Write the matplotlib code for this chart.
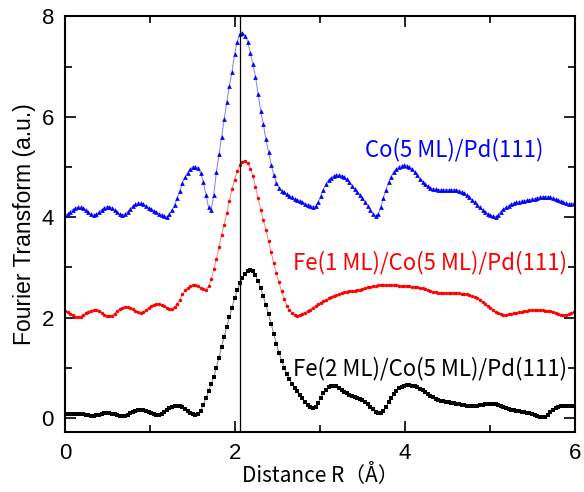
import matplotlib
matplotlib.use("Agg")
import matplotlib.pyplot as plt
import numpy as np

# R grid of the Fourier transform (step 0.0307 A)
r = np.arange(196) * 0.0307

co5 = [4.04, 4.07, 4.11, 4.15, 4.18, 4.20, 4.20, 4.19, 4.15, 4.10,
       4.06, 4.04, 4.06, 4.10, 4.15, 4.19, 4.21, 4.21, 4.19, 4.15,
       4.10, 4.06, 4.04, 4.06, 4.11, 4.17, 4.22, 4.26, 4.28, 4.28,
       4.26, 4.23, 4.19, 4.16, 4.13, 4.10, 4.07, 4.05, 4.02, 4.00,
       4.06, 4.14, 4.24, 4.38, 4.52, 4.68, 4.80, 4.89, 4.96, 5.00,
       5.01, 4.98, 4.88, 4.70, 4.45, 4.20, 4.14, 4.45, 4.90, 5.25,
       5.60, 5.95, 6.30, 6.62, 6.90, 7.25, 7.50, 7.66, 7.68, 7.62,
       7.50, 7.28, 7.05, 6.80, 6.45, 6.12, 5.85, 5.55, 5.30, 5.05,
       4.84, 4.68, 4.58, 4.53, 4.50, 4.46, 4.43, 4.40, 4.37, 4.35,
       4.33, 4.30, 4.27, 4.25, 4.23, 4.21, 4.22, 4.30, 4.42, 4.55,
       4.66, 4.74, 4.79, 4.82, 4.84, 4.84, 4.83, 4.80, 4.76, 4.70,
       4.63, 4.57, 4.51, 4.45, 4.38, 4.30, 4.22, 4.14, 4.07, 4.03,
       4.06, 4.20, 4.38, 4.55, 4.70, 4.81, 4.90, 4.96, 5.00, 5.03,
       5.04, 5.03, 5.00, 4.96, 4.90, 4.84, 4.77, 4.71, 4.66, 4.62,
       4.59, 4.57, 4.56, 4.55, 4.55, 4.55, 4.55, 4.55, 4.55, 4.55,
       4.54, 4.53, 4.51, 4.48, 4.44, 4.40, 4.35, 4.30, 4.25, 4.20,
       4.15, 4.11, 4.07, 4.04, 4.02, 4.01, 4.05, 4.11, 4.16, 4.20,
       4.23, 4.26, 4.28, 4.30, 4.31, 4.32, 4.33, 4.34, 4.35, 4.36,
       4.37, 4.39, 4.40, 4.41, 4.41, 4.41, 4.40, 4.38, 4.36, 4.34,
       4.32, 4.30, 4.28, 4.27, 4.27, 4.28]

fe1 = [2.13, 2.11, 2.08, 2.05, 2.02, 2.01, 2.02, 2.05, 2.09, 2.12,
       2.14, 2.15, 2.15, 2.13, 2.10, 2.06, 2.04, 2.03, 2.04, 2.08,
       2.13, 2.17, 2.20, 2.22, 2.22, 2.20, 2.17, 2.13, 2.11, 2.10,
       2.11, 2.15, 2.19, 2.23, 2.26, 2.27, 2.27, 2.26, 2.23, 2.20,
       2.18, 2.18, 2.21, 2.27, 2.36, 2.46, 2.54, 2.59, 2.62, 2.64,
       2.65, 2.63, 2.59, 2.56, 2.55, 2.62, 2.76, 2.96, 3.16, 3.40,
       3.65, 3.85, 4.08, 4.33, 4.56, 4.75, 4.92, 5.04, 5.11, 5.12,
       5.08, 4.97, 4.82, 4.60, 4.38, 4.15, 3.95, 3.75, 3.52, 3.30,
       3.08, 2.88, 2.70, 2.52, 2.37, 2.24, 2.15, 2.09, 2.05, 2.04,
       2.06, 2.08, 2.10, 2.13, 2.16, 2.20, 2.24, 2.27, 2.30, 2.33,
       2.36, 2.38, 2.41, 2.43, 2.45, 2.47, 2.49, 2.50, 2.51, 2.52,
       2.53, 2.53, 2.54, 2.55, 2.57, 2.58, 2.60, 2.61, 2.62, 2.63,
       2.64, 2.65, 2.65, 2.65, 2.65, 2.65, 2.64, 2.64, 2.63, 2.63,
       2.62, 2.62, 2.62, 2.61, 2.61, 2.60, 2.59, 2.58, 2.57, 2.55,
       2.53, 2.51, 2.50, 2.49, 2.49, 2.49, 2.49, 2.49, 2.49, 2.49,
       2.48, 2.48, 2.47, 2.47, 2.46, 2.45, 2.43, 2.41, 2.39, 2.36,
       2.32, 2.28, 2.24, 2.20, 2.16, 2.12, 2.09, 2.07, 2.06, 2.06,
       2.07, 2.08, 2.09, 2.10, 2.11, 2.12, 2.13, 2.14, 2.15, 2.15,
       2.15, 2.15, 2.15, 2.15, 2.14, 2.14, 2.13, 2.12, 2.10, 2.08,
       2.06, 2.05, 2.05, 2.07, 2.10, 2.12]

fe2 = [0.07, 0.07, 0.08, 0.08, 0.08, 0.08, 0.08, 0.07, 0.06, 0.05,
       0.04, 0.04, 0.05, 0.06, 0.08, 0.09, 0.09, 0.09, 0.08, 0.07,
       0.05, 0.04, 0.04, 0.04, 0.06, 0.09, 0.12, 0.14, 0.15, 0.15,
       0.15, 0.13, 0.11, 0.09, 0.07, 0.05, 0.05, 0.07, 0.11, 0.15,
       0.19, 0.22, 0.24, 0.24, 0.23, 0.21, 0.18, 0.14, 0.10, 0.07,
       0.06, 0.07, 0.14, 0.26, 0.40, 0.53, 0.68, 0.82, 1.00, 1.20,
       1.42, 1.62, 1.82, 2.02, 2.20, 2.38, 2.55, 2.68, 2.79, 2.87,
       2.93, 2.95, 2.92, 2.84, 2.73, 2.58, 2.42, 2.25, 2.07, 1.88,
       1.68, 1.48, 1.30, 1.14, 1.00, 0.88, 0.77, 0.68, 0.60, 0.53,
       0.46, 0.39, 0.32, 0.26, 0.21, 0.19, 0.22, 0.30, 0.40, 0.49,
       0.56, 0.61, 0.64, 0.64, 0.63, 0.60, 0.56, 0.52, 0.49, 0.46,
       0.44, 0.42, 0.40, 0.38, 0.35, 0.31, 0.27, 0.22, 0.17, 0.12,
       0.09, 0.09, 0.14, 0.22, 0.31, 0.40, 0.48, 0.54, 0.59, 0.62,
       0.64, 0.65, 0.65, 0.64, 0.63, 0.61, 0.58, 0.55, 0.51, 0.47,
       0.44, 0.41, 0.38, 0.36, 0.34, 0.33, 0.32, 0.31, 0.30, 0.29,
       0.28, 0.27, 0.26, 0.25, 0.24, 0.24, 0.24, 0.24, 0.24, 0.25,
       0.26, 0.27, 0.28, 0.28, 0.28, 0.27, 0.25, 0.23, 0.21, 0.19,
       0.18, 0.16, 0.15, 0.14, 0.13, 0.12, 0.11, 0.10, 0.09, 0.08,
       0.06, 0.04, 0.02, 0.01, 0.02, 0.06, 0.11, 0.15, 0.19, 0.21,
       0.23, 0.24, 0.24, 0.24, 0.23, 0.23]

labels = ["Co(5 ML)/Pd(111)", "Fe(1 ML)/Co(5 ML)/Pd(111)", "Fe(2 ML)/Co(5 ML)/Pd(111)"]
r_line = 2.06

jp = ["Noto Sans CJK JP", "DejaVu Sans"]
plt.rcParams["font.family"] = ["Liberation Sans", "DejaVu Sans"]

fig = plt.figure(figsize=(5.84, 4.92), dpi=100)
ax = fig.add_axes([0.1113, 0.122, 0.8733, 0.8455])

ax.plot(r, co5, "-", color="#7f7fff", lw=0.7)
ax.plot(r, co5, "^", color="#0000ff", ms=3.4, mew=0, ls="none")
ax.plot(r, fe1, "-", color="#ff8080", lw=0.7)
ax.plot(r, fe1, "o", color="#ff0000", ms=2.5, mew=0, ls="none")
ax.plot(r, fe2, "-", color="#808080", lw=0.7)
ax.plot(r, fe2, "s", color="#000000", ms=2.6, mew=0, ls="none")

ax.axvline(r_line, color="black", lw=0.9)

ax.text(4.58, 5.34, labels[0], color="#0000ff", fontsize=16, family=jp, ha="center", va="center")
ax.text(5.91, 3.09, labels[1], color="#ff0000", fontsize=16, family=jp, ha="right", va="center")
ax.text(5.91, 0.98, labels[2], color="#000000", fontsize=16, family=jp, ha="right", va="center")

ax.set_xlim(0, 6)
ax.set_ylim(-0.28, 8.01)
ax.set_xticks([0, 2, 4, 6])
ax.set_xticks([1, 3, 5], minor=True)
ax.set_yticks([0, 2, 4, 6, 8])
ax.set_yticks([1, 3, 5, 7], minor=True)
ax.tick_params(which="both", direction="in", top=True, right=True, labelsize=16, width=1.2, pad=8)
ax.tick_params(which="major", length=8)
ax.tick_params(which="minor", length=5)
for s in ax.spines.values():
    s.set_linewidth(1.5)

ax.set_xlabel("Distance R（Å）", fontsize=15, family=jp, labelpad=0)
ax.set_ylabel("Fourier Transform (a.u.)", fontsize=16.5, labelpad=4)

fig.savefig("out.png", dpi=100)
